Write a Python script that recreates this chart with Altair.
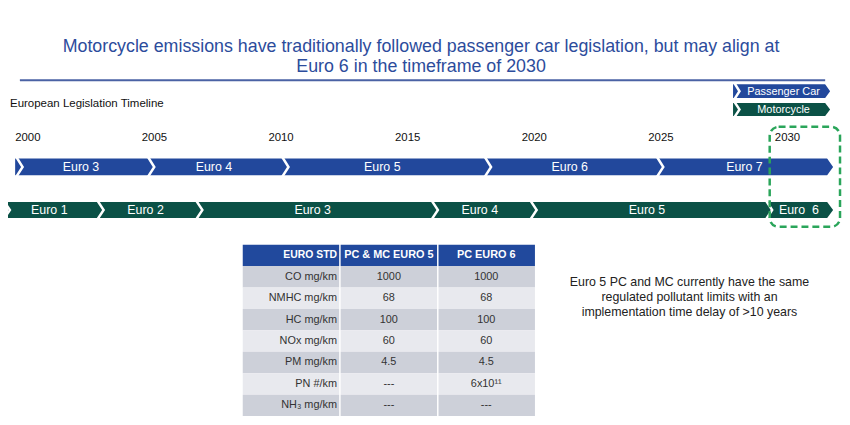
import altair as alt
import pandas as pd

# ---------------- data ----------------
title_lines = [
    "Motorcycle emissions have traditionally followed passenger car legislation, but may align at",
    "Euro 6 in the timeframe of 2030",
]
subtitle = "European Legislation Timeline"
year_ticks = [2000, 2005, 2010, 2015, 2020, 2025, 2030]

pc_stages = ["Euro 3", "Euro 4", "Euro 5", "Euro 6", "Euro 7"]
pc_bounds = [1999.5, 2004.7, 2010.0, 2018.0, 2024.8, 2031.8]
mc_stages = ["Euro 1", "Euro 2", "Euro 3", "Euro 4", "Euro 5", "Euro\u00a0 6"]
mc_bounds = [1999.0, 2002.7, 2006.6, 2015.9, 2019.8, 2029.1, 2031.8]

legend_names = ["Passenger Car", "Motorcycle"]

table_header = ["EURO STD", "PC & MC EURO 5", "PC EURO 6"]
pollutants = ["CO mg/km", "NMHC mg/km", "HC mg/km", "NOx mg/km",
              "PM mg/km", "PN #/km", "NH\u2083 mg/km"]
euro5_limits = ["1000", "68", "100", "60", "4.5", "---", "---"]
pc_euro6_limits = ["1000", "68", "100", "60", "4.5", "6x10\u00b9\u00b9", "---"]

note_lines = [
    "Euro 5 PC and MC currently have the same",
    "regulated pollutant limits with an",
    "implementation time delay of >10 years",
]

# ---------------- styling / geometry ----------------
W, H = 842, 409
FONT = "Liberation Sans"
BLUE = "#22489c"
GREEN = "#0b5146"
TITLE_BLUE = "#2c4c9c"
xs = alt.Scale(domain=[2000, 2030], range=[20, 787], nice=False, zero=False)
DUMMY = alt.Data(values=[{"a": 1}])


def stripe_path(h, d, g):
    return f"M0,{-h-1}L{g},{-h-1}L{g+d},0L{g},{h+1}L0,{h+1}L{d},0Z"


def endcut_path(h, d):
    return f"M{-d},{-h-1}L2,{-h-1}L2,{h+1}L{-d},{h+1}L{-d},{h}L0,0L{-d},{-h}Z"


def chevron_row(stages, bounds, color, yc, h, d=6, g=3):
    body_df = pd.DataFrame({"start": [bounds[0]], "end": [bounds[-1]]})
    body = alt.Chart(body_df).mark_rect(color=color).encode(
        x=alt.X("start:Q", scale=xs, axis=None), x2="end:Q",
        y=alt.value(yc - h), y2=alt.value(yc + h))
    stripes = alt.Chart(pd.DataFrame({"b": bounds[:-1]})).mark_point(
        shape=stripe_path(h, d, g), size=4, filled=True, color="white",
        opacity=1, strokeWidth=0).encode(
        x=alt.X("b:Q", scale=xs, axis=None), y=alt.value(yc))
    cut = alt.Chart(pd.DataFrame({"b": [bounds[-1]]})).mark_point(
        shape=endcut_path(h, d), size=4, filled=True, color="white",
        opacity=1, strokeWidth=0).encode(
        x=alt.X("b:Q", scale=xs, axis=None), y=alt.value(yc))
    seg = pd.DataFrame({"stage": stages, "start": bounds[:-1], "end": bounds[1:]})
    labels = alt.Chart(seg).transform_calculate(
        mid="(datum.start + datum.end) / 2").mark_text(
        color="white", fontSize=12.5, font=FONT).encode(
        x=alt.X("mid:Q", scale=xs, axis=None), y=alt.value(yc + 0.5),
        text="stage:N")
    return [body, stripes, cut, labels]


def legend_chevron(name, color, x0, x1, yc, h, d=5, g=3):
    body = alt.Chart(DUMMY).mark_rect(color=color).encode(
        x=alt.value(x0), x2=alt.value(x1), y=alt.value(yc - h), y2=alt.value(yc + h))
    notch = alt.Chart(DUMMY).mark_point(
        shape=stripe_path(h, d, g), size=4, filled=True, color="white",
        opacity=1, strokeWidth=0).encode(x=alt.value(x0), y=alt.value(yc))
    cut = alt.Chart(DUMMY).mark_point(
        shape=endcut_path(h, d), size=4, filled=True, color="white",
        opacity=1, strokeWidth=0).encode(x=alt.value(x1), y=alt.value(yc))
    txt = alt.Chart(DUMMY).mark_text(color="white", fontSize=11, font=FONT).encode(
        x=alt.value((x0 + x1) / 2 + 2), y=alt.value(yc + 0.5), text=alt.value(name))
    return [body, notch, cut, txt]


layers = []

# title
layers.append(alt.Chart(DUMMY).mark_text(
    fontSize=18, font=FONT, color=TITLE_BLUE, lineBreak="\n", lineHeight=21).encode(
    x=alt.value(417), y=alt.value(37), text=alt.value("\n".join(title_lines))))
layers.append(alt.Chart(DUMMY).mark_rule(color="#4a62a4", strokeWidth=2).encode(
    x=alt.value(12), x2=alt.value(825), y=alt.value(71)))
layers.append(alt.Chart(DUMMY).mark_text(
    fontSize=11.6, font=FONT, color="#111111", align="left").encode(
    x=alt.value(2), y=alt.value(95), text=alt.value(subtitle)))

# legend chevrons
layers += legend_chevron(legend_names[0], BLUE, 732, 830, 82, 7)
layers += legend_chevron(legend_names[1], GREEN, 732, 830, 100.5, 6.5)

# year labels
layers.append(alt.Chart(pd.DataFrame({"year": year_ticks})).mark_text(
    fontSize=11.5, font=FONT, color="#111111").encode(
    x=alt.X("year:Q", scale=xs, axis=None), y=alt.value(129),
    text=alt.Text("year:Q", format="d")))

# chevron rows
layers += chevron_row(pc_stages, pc_bounds, BLUE, 158.5, 8.5)
layers += chevron_row(mc_stages, mc_bounds, GREEN, 202, 8)

# table
cells = []
cols = [[table_header[0]] + pollutants,
        [table_header[1]] + euro5_limits,
        [table_header[2]] + pc_euro6_limits]
for c, col in enumerate(cols):
    for r, txt in enumerate(col):
        kind = "header" if r == 0 else ("dark" if r % 2 == 1 else "light")
        cells.append({"row": r, "col": c, "text": txt, "kind": kind})
cells = pd.DataFrame(cells)

tx = alt.Scale(domain=[0, 1, 2], range=[237, 532], paddingInner=0.015, paddingOuter=0)
ty = alt.Scale(domain=list(range(8)), range=[237, 410], paddingInner=0, paddingOuter=0)
kind_scale = alt.Scale(domain=["header", "dark", "light"],
                       range=["#21499d", "#cdd0d9", "#e8e9ee"])

layers.append(alt.Chart(cells).mark_rect().encode(
    x=alt.X("col:O", scale=tx, axis=None),
    y=alt.Y("row:O", scale=ty, axis=None),
    fill=alt.Fill("kind:N", scale=kind_scale, legend=None)))

text_color = alt.Color("kind:N", scale=alt.Scale(
    domain=["header", "dark", "light"], range=["#ffffff", "#333333", "#333333"]), legend=None)

layers.append(alt.Chart(cells).transform_filter("datum.col == 0 && datum.row > 0").mark_text(
    align="right", dx=46, fontSize=11, font=FONT).encode(
    x=alt.X("col:O", scale=tx, axis=None), y=alt.Y("row:O", scale=ty, axis=None),
    text="text:N", color=text_color))
layers.append(alt.Chart(cells).transform_filter("datum.col == 0 && datum.row == 0").mark_text(
    align="right", dx=46, fontSize=10.5, font=FONT, fontWeight="bold").encode(
    x=alt.X("col:O", scale=tx, axis=None), y=alt.Y("row:O", scale=ty, axis=None),
    text="text:N", color=text_color))
layers.append(alt.Chart(cells).transform_filter("datum.col > 0 && datum.row > 0").mark_text(
    fontSize=11, font=FONT).encode(
    x=alt.X("col:O", scale=tx, axis=None), y=alt.Y("row:O", scale=ty, axis=None),
    text="text:N", color=text_color))
layers.append(alt.Chart(cells).transform_filter("datum.col > 0 && datum.row == 0").mark_text(
    fontSize=11, font=FONT, fontWeight="bold").encode(
    x=alt.X("col:O", scale=tx, axis=None), y=alt.Y("row:O", scale=ty, axis=None),
    text="text:N", color=text_color))

# note
layers.append(alt.Chart(DUMMY).mark_text(
    fontSize=12.5, font=FONT, color="#222222", lineBreak="\n", lineHeight=15).encode(
    x=alt.value(688), y=alt.value(275), text=alt.value("\n".join(note_lines))))

# dashed highlight box
layers.append(alt.Chart(DUMMY).mark_rect(
    fillOpacity=0, stroke="#2aa55a", strokeDash=[7, 4], strokeWidth=2.5,
    cornerRadius=9).encode(
    x=alt.value(769), x2=alt.value(840), y=alt.value(118), y2=alt.value(219)))

chart = alt.layer(*layers).resolve_scale(
    x="independent", y="independent", color="independent", fill="independent"
).properties(
    width=W, height=H, padding=0, autosize=alt.AutoSizeParams(type="none"),
    background="white"
).configure_view(stroke=None)

chart.save("out.html", embed_options={"renderer": "svg", "actions": False})
